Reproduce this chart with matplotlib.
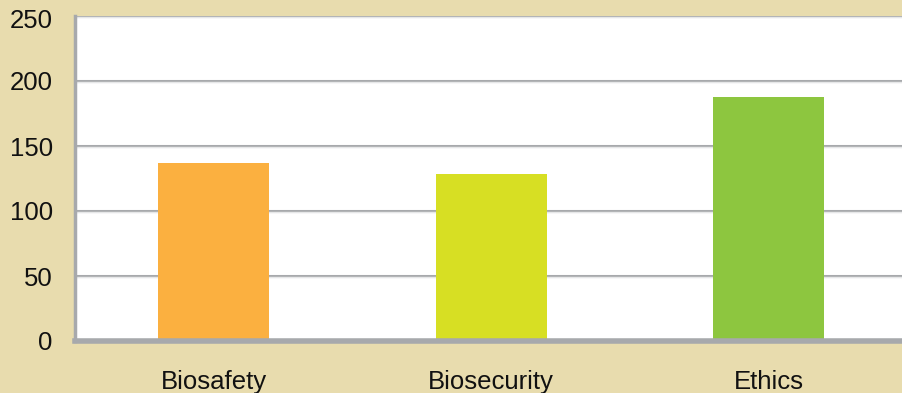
import matplotlib
matplotlib.use("Agg")
import matplotlib.pyplot as plt
import matplotlib.transforms as mtransforms

categories = ["Biosafety", "Biosecurity", "Ethics"]
values = [137, 128.5, 188]
colors = ["#FBB040", "#D7DF23", "#8DC63F"]
yticks = [0, 50, 100, 150, 200, 250]

plt.rcParams['font.family'] = ['Liberation Sans', 'DejaVu Sans']

W, H = 902, 393
fig = plt.figure(figsize=(W/100, H/100), dpi=100, facecolor="#E8DCAE")
x0, x1 = 75, 907.5
y0, y1 = 341, 16
ax = fig.add_axes([x0/W, 1 - y0/H, (x1-x0)/W, (y0-y1)/H])
ax.set_facecolor("white")
ax.set_xlim(-0.5, 2.5)
ax.set_ylim(0, 250)

for y in yticks[1:]:
    ax.axhline(y, color="#A7A9AC", lw=2.2, zorder=1)
    ax.axhline(y - 0.9, color="#E6E7E8", lw=1, zorder=1)

ax.bar(range(len(categories)), values, width=0.4, color=colors, zorder=2)

ax.set_yticks(yticks)
ax.set_yticklabels([str(v) for v in yticks], fontsize=18.5, color="#111111")
ax.set_xticks(range(len(categories)))
ax.set_xticklabels(categories, fontsize=18.5, color="#111111")
ax.tick_params(axis='y', length=0, pad=16)
ax.tick_params(axis='x', length=0, pad=21)
top_lbl = ax.get_yticklabels()[-1]
top_lbl.set_transform(top_lbl.get_transform() +
                      mtransforms.ScaledTranslation(0, -3/100, fig.dpi_scale_trans))

for s in ["top", "right"]:
    ax.spines[s].set_visible(False)
ax.spines["left"].set_color("#A7A9AC")
ax.spines["left"].set_linewidth(2.5)
ax.spines["bottom"].set_color("#A7A9AC")
ax.spines["bottom"].set_linewidth(4)
ax.spines["bottom"].set_zorder(3)

fig.savefig("out.png", dpi=100, facecolor=fig.get_facecolor())
